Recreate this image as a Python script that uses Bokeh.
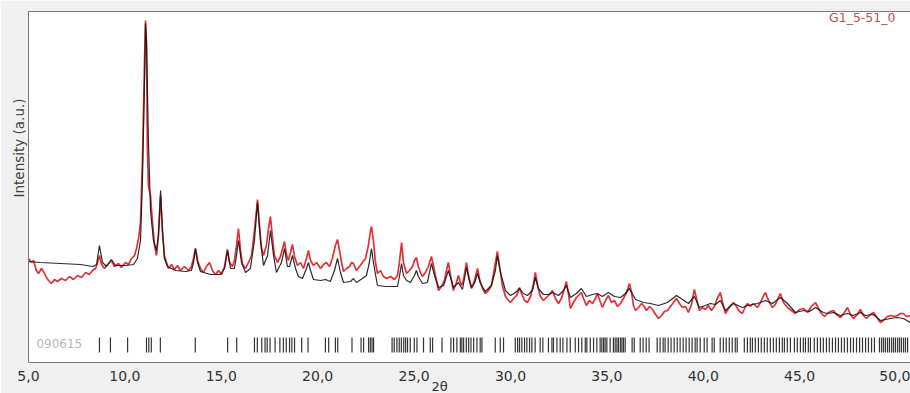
from bokeh.plotting import figure
from bokeh.models import Range1d, FixedTicker, LinearAxis, Label, Title, ColumnDataSource
from bokeh.embed import file_html
from bokeh.resources import INLINE

# ---- data (2theta in degrees, intensity in arbitrary units) ----
calc_2theta = [5.00, 5.62, 6.66, 7.70, 8.32, 8.53, 8.68, 8.84, 9.05, 9.30, 9.51, 10.03, 10.45, 10.65, 10.81, 10.91,
               11.02, 11.07, 11.12, 11.22, 11.33, 11.48, 11.64, 11.74, 11.85, 11.95, 12.05, 12.21, 12.62, 13.14, 13.45,
               13.56, 13.66, 13.77, 13.92, 14.44, 14.96, 15.17, 15.32, 15.48, 15.68, 15.79, 15.89, 16.05, 16.26, 16.51,
               16.72, 16.88, 17.03, 17.19, 17.40, 17.55, 17.71, 17.86, 18.12, 18.28, 18.43, 18.54, 18.69, 18.85, 19.00,
               19.21, 19.42, 19.52, 19.63, 19.78, 20.15, 20.40, 20.66, 20.87, 21.03, 21.18, 21.34, 21.70, 21.86, 22.01,
               22.32, 22.53, 22.68, 22.79, 22.89, 23.10, 23.52, 24.14, 24.24, 24.35, 24.45, 24.61, 24.81, 25.02, 25.12,
               25.22, 25.44, 25.69, 25.90, 26.06, 26.27, 26.53, 26.78, 26.94, 27.04, 27.30, 27.51, 27.72, 27.87, 27.98,
               28.13, 28.29, 28.44, 28.70, 29.01, 29.22, 29.32, 29.48, 29.74, 30.00, 30.26, 30.47, 30.67, 30.88, 31.14,
               31.29, 31.45, 31.71, 31.97, 32.18, 32.49, 32.75, 32.90, 33.11, 33.42, 33.68, 33.94, 34.25, 34.51, 34.77,
               35.08, 35.39, 35.71, 35.96, 36.17, 36.49, 36.90, 37.26, 37.68, 38.14, 38.61, 38.92, 39.23, 39.54, 39.80,
               40.11, 40.37, 40.63, 40.89, 41.15, 41.57, 42.03, 42.29, 42.81, 43.23, 43.59, 44.00, 44.37, 44.78, 45.20,
               45.51, 45.82, 46.23, 46.44, 46.75, 47.12, 47.48, 47.79, 48.15, 48.41, 48.83, 49.19, 49.71, 50.07, 50.38,
               50.75]
calc_intensity = [101, 100, 99, 98, 96, 98, 117, 100, 96, 103, 97, 97, 98, 104, 122, 182,
                  282, 339, 322, 222, 152, 122, 112, 127, 172, 132, 104, 96, 92, 91, 92,
                  100, 114, 100, 91, 88, 88, 94, 112, 94, 94, 107, 122, 100, 90, 94,
                  122, 160, 122, 97, 107, 132, 107, 90, 100, 114, 96, 96, 107, 94, 86,
                  84, 94, 100, 92, 83, 82, 83, 81, 92, 104, 90, 80, 81, 84, 80,
                  84, 87, 100, 114, 100, 77, 76, 76, 86, 99, 87, 82, 80, 87, 92,
                  86, 79, 80, 99, 87, 75, 77, 92, 82, 75, 80, 73, 95, 82, 75,
                  79, 89, 79, 71, 77, 92, 107, 90, 72, 67, 70, 74, 69, 67, 72,
                  85, 74, 68, 68, 70, 67, 72, 77, 65, 69, 74, 66, 68, 69, 66,
                  70, 66, 65, 69, 74, 63, 60, 59, 57, 60, 67, 63, 59, 66, 55,
                  57, 59, 58, 62, 52, 59, 55, 57, 59, 62, 59, 65, 59, 50, 52,
                  51, 55, 50, 49, 50, 47, 49, 47, 50, 47, 48, 42, 44, 45, 44,
                  40]

obs_2theta = [5.00, 5.16, 5.26, 5.41, 5.52, 5.67, 5.78, 5.93, 6.04, 6.19, 6.35, 6.50, 6.71, 6.92, 7.13, 7.33,
              7.54, 7.75, 7.96, 8.16, 8.32, 8.48, 8.58, 8.68, 8.79, 8.94, 9.10, 9.30, 9.46, 9.67, 9.82, 10.03,
              10.19, 10.34, 10.50, 10.60, 10.71, 10.81, 10.91, 11.02, 11.07, 11.12, 11.17, 11.22, 11.33, 11.43,
              11.54, 11.64, 11.74, 11.85, 11.95, 12.05, 12.16, 12.26, 12.42, 12.57, 12.73, 12.88, 13.09, 13.30,
              13.45, 13.56, 13.66, 13.77, 13.92, 14.08, 14.23, 14.39, 14.54, 14.70, 14.86, 15.01, 15.17, 15.32,
              15.43, 15.58, 15.68, 15.79, 15.89, 16.00, 16.10, 16.26, 16.41, 16.57, 16.72, 16.88, 16.98, 17.09,
              17.19, 17.34, 17.45, 17.55, 17.66, 17.76, 17.91, 18.07, 18.28, 18.38, 18.48, 18.59, 18.69, 18.80,
              18.95, 19.11, 19.26, 19.42, 19.52, 19.63, 19.78, 19.94, 20.15, 20.30, 20.45, 20.61, 20.76, 20.92,
              21.03, 21.13, 21.24, 21.34, 21.50, 21.65, 21.76, 21.86, 22.01, 22.17, 22.32, 22.48, 22.63, 22.74,
              22.79, 22.89, 23.00, 23.10, 23.26, 23.41, 23.57, 23.78, 23.98, 24.14, 24.24, 24.35, 24.45, 24.61,
              24.76, 24.92, 25.02, 25.12, 25.22, 25.33, 25.43, 25.59, 25.74, 25.90, 26.00, 26.16, 26.27, 26.42,
              26.58, 26.68, 26.78, 26.89, 27.04, 27.20, 27.30, 27.45, 27.56, 27.72, 27.82, 27.98, 28.13, 28.29,
              28.39, 28.55, 28.70, 28.86, 29.01, 29.17, 29.32, 29.43, 29.58, 29.74, 29.90, 30.00, 30.16, 30.32,
              30.47, 30.57, 30.73, 30.88, 31.04, 31.19, 31.29, 31.40, 31.55, 31.71, 31.86, 32.02, 32.18, 32.33,
              32.49, 32.64, 32.80, 32.90, 33.01, 33.11, 33.27, 33.42, 33.58, 33.68, 33.79, 33.94, 34.10, 34.25,
              34.41, 34.51, 34.67, 34.77, 34.93, 35.08, 35.24, 35.39, 35.55, 35.71, 35.86, 36.02, 36.17, 36.28,
              36.38, 36.49, 36.64, 36.80, 36.90, 37.06, 37.21, 37.37, 37.53, 37.68, 37.84, 37.99, 38.14, 38.30,
              38.46, 38.61, 38.77, 38.92, 39.08, 39.23, 39.39, 39.54, 39.65, 39.80, 39.96, 40.11, 40.27, 40.42,
              40.58, 40.73, 40.89, 41.00, 41.15, 41.31, 41.46, 41.57, 41.72, 41.88, 42.03, 42.19, 42.29, 42.44,
              42.60, 42.81, 42.97, 43.13, 43.23, 43.38, 43.59, 43.74, 43.90, 44.00, 44.16, 44.37, 44.57, 44.78,
              44.99, 45.20, 45.41, 45.61, 45.82, 45.98, 46.13, 46.29, 46.44, 46.60, 46.75, 46.91, 47.12, 47.32,
              47.48, 47.64, 47.79, 48.00, 48.15, 48.31, 48.47, 48.67, 48.83, 48.98, 49.19, 49.40, 49.55, 49.71,
              49.92, 50.07, 50.23, 50.38, 50.54, 50.75]
obs_intensity = [104, 100, 102, 92, 89, 94, 91, 85, 82, 79, 83, 81, 84, 82, 86, 83,
                 87, 85, 90, 88, 92, 94, 100, 107, 98, 94, 98, 102, 96, 99, 95, 100,
                 98, 104, 107, 114, 124, 140, 202, 302, 342, 317, 212, 177, 167, 140,
                 117, 107, 127, 167, 130, 107, 100, 94, 98, 93, 97, 92, 96, 92,
                 96, 104, 114, 102, 94, 90, 96, 100, 92, 88, 92, 88, 96, 113,
                 100, 96, 102, 117, 134, 112, 98, 94, 100, 107, 132, 163, 137, 114,
                 107, 117, 134, 146, 124, 107, 100, 106, 121, 108, 102, 110, 118, 106,
                 97, 100, 94, 104, 112, 102, 97, 100, 94, 98, 100, 96, 104, 117,
                 123, 112, 100, 91, 94, 96, 100, 99, 92, 96, 100, 104, 117, 132,
                 136, 122, 100, 89, 92, 86, 84, 86, 83, 87, 100, 120, 100, 89,
                 92, 96, 102, 105, 96, 90, 86, 90, 96, 106, 97, 82, 72, 76,
                 82, 92, 100, 87, 72, 80, 87, 77, 82, 100, 87, 74, 82, 94,
                 84, 74, 69, 72, 77, 94, 111, 97, 77, 66, 62, 60, 64, 67,
                 75, 69, 62, 60, 66, 78, 90, 78, 66, 62, 65, 68, 72, 64,
                 59, 64, 74, 81, 68, 54, 60, 65, 68, 70, 64, 57, 62, 59,
                 64, 69, 60, 55, 62, 67, 60, 62, 56, 59, 64, 70, 79, 70,
                 57, 52, 55, 59, 57, 52, 56, 53, 48, 44, 47, 51, 52, 56,
                 60, 64, 59, 55, 56, 50, 58, 73, 64, 52, 55, 53, 57, 52,
                 56, 64, 70, 60, 49, 54, 58, 60, 56, 51, 49, 56, 59, 56,
                 59, 55, 60, 67, 70, 62, 55, 58, 65, 69, 60, 55, 52, 49,
                 53, 54, 50, 56, 60, 54, 49, 46, 49, 51, 52, 48, 45, 50,
                 55, 48, 44, 48, 53, 47, 44, 48, 50, 46, 40, 43, 46, 47,
                 46, 47, 49, 49, 46, 47]

ref_positions = [8.68, 9.25, 10.14, 11.12, 11.24, 11.37, 11.84, 13.65, 15.33, 15.80, 16.72, 16.87, 17.10, 17.27,
                 17.38, 17.53, 17.79, 18.04, 18.22, 18.37, 18.54, 18.66, 18.80, 19.17, 19.50, 20.40, 20.57, 20.92,
                 21.04, 21.78, 22.25, 22.38, 22.64, 22.73, 22.82, 22.90, 23.86, 23.97, 24.11, 24.23, 24.34, 24.46,
                 24.56, 24.66, 24.80, 25.01, 25.15, 25.49, 25.84, 25.96, 26.45, 26.91, 27.05, 27.22, 27.40, 27.48,
                 27.57, 27.71, 27.83, 27.95, 28.09, 28.26, 28.43, 28.52, 29.21, 29.47, 29.64, 30.25, 30.37, 30.47,
                 30.59, 30.73, 30.85, 30.99, 31.11, 31.28, 31.54, 31.68, 31.97, 32.15, 32.23, 32.41, 32.58, 32.72,
                 32.93, 33.10, 33.36, 33.53, 33.70, 33.88, 33.96, 34.14, 34.31, 34.48, 34.65, 34.74, 34.83, 34.91,
                 35.00, 35.17, 35.34, 35.43, 35.52, 35.60, 35.70, 35.78, 35.86, 35.95, 36.31, 36.42, 36.73, 36.88,
                 37.04, 37.19, 37.61, 37.76, 37.92, 38.02, 38.18, 38.33, 38.49, 38.65, 38.80, 38.96, 39.11, 39.27,
                 39.42, 39.58, 39.68, 39.84, 40.05, 40.20, 40.46, 40.57, 40.88, 41.04, 41.19, 41.35, 41.50, 41.66,
                 41.76, 42.13, 42.29, 42.44, 42.55, 42.70, 42.86, 43.01, 43.17, 43.32, 43.48, 43.64, 43.79, 43.95,
                 44.10, 44.21, 44.36, 44.52, 44.73, 44.88, 45.04, 45.19, 45.30, 45.45, 45.56, 45.76, 45.92, 46.08,
                 46.23, 46.39, 46.54, 46.70, 46.86, 47.01, 47.17, 47.32, 47.48, 47.64, 47.79, 47.95, 48.11, 48.26,
                 48.42, 48.57, 48.73, 48.88, 49.14, 49.25, 49.35, 49.45, 49.56, 49.66, 49.77, 49.87, 49.97, 50.08,
                 50.18, 50.28, 50.39, 50.49, 50.60]

x_tick_values = [5, 10, 15, 20, 25, 30, 35, 40, 45, 50]
x_tick_labels = ["5,0", "10,0", "15,0", "20,0", "25,0", "30,0", "35,0", "40,0", "45,0", "50,0"]

sample_name = "G1_5-51_0"
reference_name = "090615"
y_title = "Intensity (a.u.)"
x_title = "2θ"

# ---- figure ----
W, H = 910, 393
p = figure(width=W, height=H, output_backend="svg", toolbar_location=None,
           x_range=Range1d(5.0, 50.75), y_range=Range1d(0, 351),
           min_border_left=28, min_border_right=0, min_border_top=11, min_border_bottom=31)
p.background_fill_color = "white"
p.border_fill_color = "#f0f0f0"
p.outline_line_color = None
p.grid.visible = False

FONT = "DejaVu Sans"
AX = "#7a7a7a"

xa = p.xaxis[0]
xa.ticker = FixedTicker(ticks=x_tick_values)
xa.major_label_overrides = {v: s for v, s in zip(x_tick_values, x_tick_labels)}
xa.major_tick_out = 0
xa.major_tick_in = 0
xa.minor_tick_line_color = None
xa.major_label_standoff = 8
xa.major_label_text_font = FONT
xa.major_label_text_font_size = "14px"
xa.major_label_text_color = "#333333"
xa.axis_line_color = AX

ya = p.yaxis[0]
ya.ticker = FixedTicker(ticks=[])
ya.major_tick_out = 0
ya.major_tick_in = 0
ya.minor_tick_line_color = None
ya.major_label_standoff = 0
ya.major_label_text_font_size = "0px"
ya.axis_line_color = AX

top = LinearAxis(ticker=FixedTicker(ticks=[]), major_tick_out=0, major_tick_in=0,
                 minor_tick_line_color=None, major_label_standoff=0,
                 major_label_text_font_size="0px", axis_line_color=AX)
p.add_layout(top, "above")

# axis titles as side titles, placed along the side with a pixel offset
p.add_layout(Title(text=y_title, align="left", offset=165, standoff=4, text_font=FONT,
                   text_font_size="13.5px", text_font_style="normal", text_color="#404040"), "left")
p.add_layout(Title(text=x_title, align="left", offset=403, standoff=-14, text_font=FONT,
                   text_font_size="13px", text_font_style="normal", text_color="#333333"), "below")

# reference peak markers
p.segment(x0=ref_positions, y0=[10] * len(ref_positions), x1=ref_positions, y1=[25] * len(ref_positions),
          line_color="#111111", line_width=1.2, line_alpha=0.85)

obs = ColumnDataSource(dict(x=obs_2theta, y=obs_intensity))
calc = ColumnDataSource(dict(x=calc_2theta, y=calc_intensity))
p.line("x", "y", source=obs, line_color="#e2242b", line_width=1.7, line_alpha=0.95)
p.line("x", "y", source=calc, line_color="#141414", line_width=1.2, line_alpha=0.9)

p.add_layout(Label(x=49.97, y=345, text=sample_name, text_align="right", text_baseline="middle",
                   text_font=FONT, text_font_size="12.5px", text_color="#c0504d"))
p.add_layout(Label(x=5.41, y=19, text=reference_name, text_align="left", text_baseline="middle",
                   text_font=FONT, text_font_size="12px", text_color="#b8b8b8"))

open("out.html", "w").write(file_html(p, INLINE))
